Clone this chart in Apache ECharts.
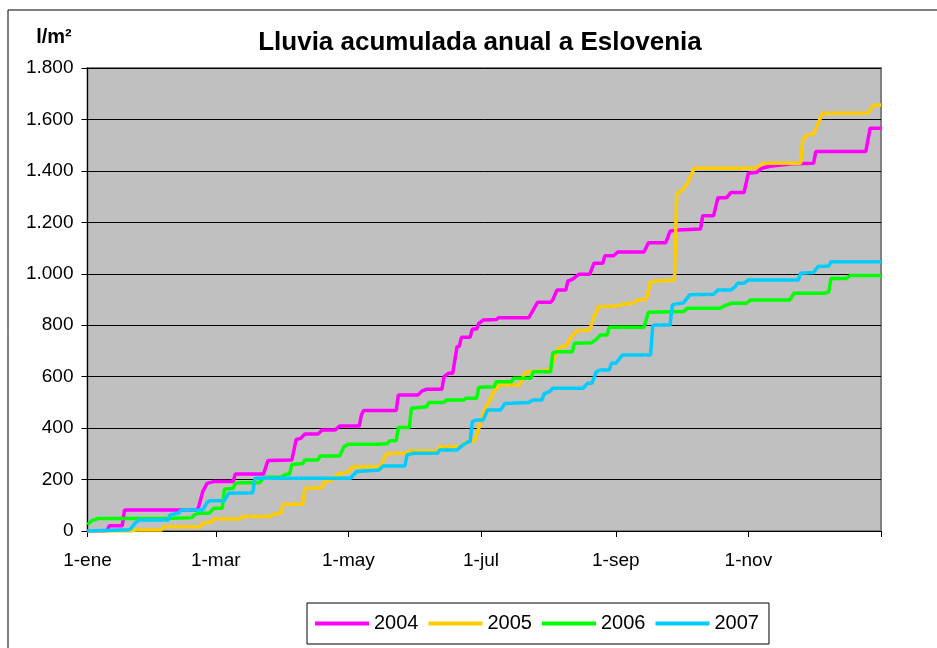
<!DOCTYPE html>
<html>
<head>
<meta charset="utf-8">
<script src="https://cdn.jsdelivr.net/npm/echarts@6/dist/echarts.min.js"></script>
<style>
  html, body { margin: 0; padding: 0; background: #fff; }
  #chart { width: 937px; height: 648px; }
</style>
</head>
<body>
<div id="chart"></div>
<script>
// rain data, [day of year, accumulated l/m2]
var years = ['2004', '2005', '2006', '2007'];
var colors = ['#ff00ff', '#ffcc00', '#00ff00', '#00ccff'];

var rain2004 = [[0,0],[9,0],[10,20],[16,20],[17,82],[50,82],[51,90],[53,153],[55,185],[58,192],[67,192],[68,222],[81,222],[83,274],[94,276],[96,356],[98,360],[100,377],[106,377],[108,393],[114,393],[116,408],[125,408],[126,452],[127,468],[142,468],[143,529],[152,529],[154,545],[156,551],[163,551],[164,600],[166,613],[168,613],[170,717],[171,717],[172,753],[176,753],[177,785],[179,785],[180,807],[182,820],[188,822],[189,829],[203,829],[205,859],[207,889],[213,889],[214,898],[216,937],[220,937],[221,972],[223,978],[226,998],[231,998],[233,1041],[237,1041],[238,1070],[242,1070],[244,1085],[256,1085],[258,1121],[266,1121],[268,1166],[272,1170],[282,1174],[283,1226],[288,1226],[290,1296],[294,1296],[296,1316],[302,1316],[304,1391],[308,1395],[310,1410],[314,1418],[324,1428],[334,1430],[335,1475],[358,1475],[360,1566],[365,1566]];

var rain2005 = [[0,0],[20,0],[22,4],[34,4],[35,17],[52,17],[53,30],[57,34],[58,47],[70,47],[71,56],[84,56],[86,66],[89,70],[90,104],[99,104],[100,165],[108,168],[109,192],[112,195],[115,221],[117,224],[120,230],[122,250],[135,250],[137,296],[139,302],[147,302],[148,311],[161,311],[162,328],[172,328],[174,347],[178,350],[180,400],[182,457],[185,509],[187,542],[189,564],[191,568],[199,568],[201,613],[203,619],[210,623],[213,630],[216,704],[218,717],[220,717],[222,749],[225,778],[231,781],[233,833],[235,872],[244,875],[246,882],[251,885],[253,898],[257,901],[259,969],[262,972],[270,976],[271,1313],[273,1319],[276,1352],[279,1410],[307,1410],[309,1419],[311,1430],[328,1430],[329,1520],[331,1540],[334,1542],[338,1624],[359,1624],[361,1650],[362,1656],[365,1656]];

var rain2006 = [[0,25],[2,40],[5,49],[37,49],[48,52],[49,62],[51,69],[56,69],[58,88],[62,88],[63,162],[67,166],[68,185],[70,188],[79,188],[81,205],[82,209],[89,209],[91,220],[93,222],[94,259],[99,262],[100,276],[106,276],[107,292],[116,292],[118,328],[120,337],[134,337],[138,340],[139,351],[142,351],[143,402],[148,402],[149,477],[156,483],[157,500],[164,500],[165,509],[173,509],[174,516],[179,516],[180,559],[187,561],[188,580],[195,580],[196,594],[204,594],[205,619],[213,619],[214,691],[216,697],[223,697],[224,730],[232,732],[234,745],[236,762],[239,762],[240,792],[256,792],[258,850],[274,853],[276,866],[291,866],[293,875],[296,885],[303,885],[305,898],[323,898],[325,924],[339,924],[341,930],[342,982],[349,982],[351,993],[365,993]];

var rain2007 = [[0,0],[19,5],[20,10],[22,32],[24,43],[37,43],[38,62],[40,66],[42,70],[43,82],[53,82],[55,110],[56,118],[63,118],[65,147],[76,149],[77,205],[121,205],[122,215],[123,224],[124,231],[134,237],[136,253],[146,253],[147,296],[150,302],[161,302],[162,315],[170,315],[172,330],[175,347],[176,347],[177,425],[179,432],[182,432],[184,470],[190,470],[192,496],[203,500],[205,509],[209,509],[210,533],[213,545],[214,555],[228,555],[230,574],[232,574],[234,619],[236,626],[240,626],[241,652],[243,652],[246,684],[259,684],[260,797],[261,801],[268,801],[269,879],[271,883],[274,886],[277,918],[288,920],[290,937],[296,937],[298,950],[299,963],[302,963],[304,976],[327,976],[328,1002],[334,1005],[336,1028],[341,1030],[342,1047],[365,1047]];

var allRain = [rain2004, rain2005, rain2006, rain2007];

// x axis ticks (first of month) and their labels
var monthDays = [0, 59, 120, 181, 243, 304];
var monthLabels = ['1-ene', '1-mar', '1-may', '1-jul', '1-sep', '1-nov'];
var yearEnd = 365;

var myChart = echarts.init(document.getElementById('chart'));

var series = years.map(function (y, i) {
    return {
        name: y,
        type: 'line',
        data: allRain[i],
        symbol: 'none',
        lineStyle: { color: colors[i], width: 3.5 },
        itemStyle: { color: colors[i] }
    };
});

var option = {
    animation: false,
    backgroundColor: '#fff',
    textStyle: { fontFamily: 'Arial, "Liberation Sans", sans-serif' },
    graphic: [
        {
            type: 'rect',
            shape: { x: 8, y: 10, width: 960, height: 660 },
            style: { fill: 'none', stroke: '#000', lineWidth: 1 },
            silent: true
        },
        {
            type: 'text',
            x: 480, y: 43,
            style: {
                text: 'Lluvia acumulada anual a Eslovenia',
                font: 'bold 26px Arial, "Liberation Sans"',
                fill: '#000', align: 'center', verticalAlign: 'middle'
            }
        },
        {
            type: 'text',
            x: 54, y: 37,
            style: {
                text: 'l/m²',
                font: 'bold 20px Arial, "Liberation Sans"',
                fill: '#000', align: 'center', verticalAlign: 'middle'
            }
        }
    ],
    legend: {
        data: years,
        icon: 'rect',
        left: 307,
        top: 603,
        padding: [10, 10, 10, 8],
        itemGap: 10,
        itemWidth: 54,
        itemHeight: 4,
        borderColor: '#000',
        borderWidth: 1,
        backgroundColor: '#fff',
        textStyle: { fontSize: 20, color: '#000', lineHeight: 21 }
    },
    grid: {
        left: 87.5,
        right: 56,
        top: 68,
        bottom: 117,
        show: true,
        backgroundColor: '#c0c0c0',
        borderColor: '#808080',
        borderWidth: 2
    },
    xAxis: {
        type: 'value',
        min: 0,
        max: yearEnd,
        axisLine: { lineStyle: { color: '#000', width: 1 } },
        axisTick: {
            customValues: monthDays.concat([yearEnd]),
            length: 6,
            lineStyle: { color: '#000' }
        },
        axisLabel: {
            customValues: monthDays,
            margin: 20,
            fontSize: 19,
            color: '#000',
            formatter: function (v) {
                var i = monthDays.indexOf(v);
                return i >= 0 ? monthLabels[i] : '';
            }
        },
        splitLine: { show: false }
    },
    yAxis: {
        type: 'value',
        min: 0,
        max: 1800,
        interval: 200,
        axisLine: { show: true, lineStyle: { color: '#000', width: 1 } },
        axisTick: { show: true, length: 6, lineStyle: { color: '#000' } },
        axisLabel: {
            margin: 14,
            fontSize: 19,
            color: '#000',
            formatter: function (v) {
                if (v >= 1000) {
                    var r = String(v % 1000);
                    while (r.length < 3) r = '0' + r;
                    return Math.floor(v / 1000) + '.' + r;
                }
                return String(v);
            }
        },
        splitLine: { show: true, lineStyle: { color: '#000', width: 1 } }
    },
    series: series
};

myChart.setOption(option);
</script>
</body>
</html>
